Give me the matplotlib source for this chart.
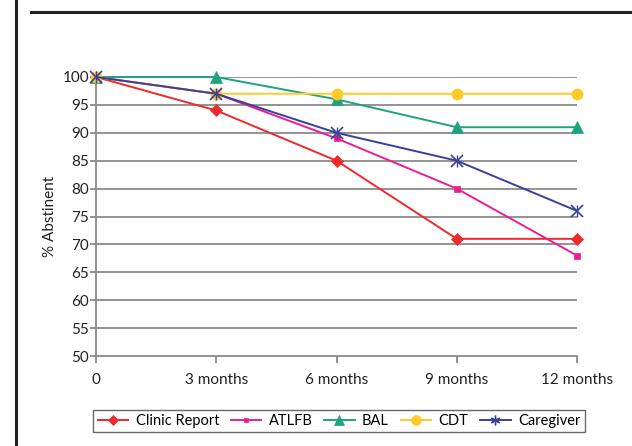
import matplotlib.pyplot as plt
from matplotlib.lines import Line2D

months = [0, 3, 6, 9, 12]
tick_labels = ['0', '3 months', '6 months', '9 months', '12 months']

clinic_report = [100, 94, 85, 71, 71]
atlfb = [100, 97, 89, 80, 68]
bal = [100, 100, 96, 91, 91]
cdt = [100, 97, 97, 97, 97]
caregiver = [100, 97, 90, 85, 76]

plt.rcParams['font.family'] = ['Lato', 'DejaVu Sans']

fig = plt.figure(figsize=(6.32, 4.46), dpi=100)
ax = fig.add_axes([96 / 632, 90 / 446, 481 / 632, 279 / 446])

grid_color = '#8a8a8a'
ax.set_yticks(range(50, 101, 5))
for y in range(55, 101, 5):
    ax.axhline(y, color=grid_color, linewidth=1.3, zorder=1)

series = [
    ('Clinic Report', clinic_report, '#ee2a2e', 'D', 6),
    ('ATLFB', atlfb, '#ec1e8f', 's', 4.5),
    ('BAL', bal, '#1fa37f', '^', 8),
    ('CDT', cdt, '#fecb2a', 'o', 8),
    ('Caregiver', caregiver, '#3a3f9c', 'x', 8),
]
for name, vals, color, marker, ms in series:
    ax.plot(months, vals, color=color, marker=marker, markersize=ms, linewidth=1.4,
            markeredgewidth=1.2 if marker == 'x' else 0.5, label=name, zorder=3, clip_on=False)
# the caregiver asterisk: add a vertical bar to make it a star
ax.plot(months, caregiver, linestyle='none', marker='|', markersize=8, color='#3a3f9c',
        markeredgewidth=1.0, zorder=4, clip_on=False)

ax.set_xlim(0, 12)
ax.set_ylim(50, 100)
ax.set_xticks(months)
ax.set_xticklabels(tick_labels, fontsize=11, color='#222222')
ax.tick_params(axis='x', length=5, width=1.3, color=grid_color, pad=7)
ax.tick_params(axis='y', length=4, width=1.3, color=grid_color, labelsize=11,
               labelcolor='#222222', pad=1)
for side in ['top', 'right']:
    ax.spines[side].set_visible(False)
for side in ['left', 'bottom']:
    ax.spines[side].set_color(grid_color)
    ax.spines[side].set_linewidth(1.3)
ax.set_ylabel('% Abstinent', fontsize=11, color='#222222', labelpad=4)

handles = []
for name, vals, color, marker, ms in series:
    handles.append(Line2D([], [], color=color, marker=marker if marker != 'x' else (6, 2, 0),
                          markersize=ms - 1, linewidth=1.4, label=name,
                          markeredgewidth=1.0 if marker == 'x' else 0.5))
leg = fig.legend(handles=handles, loc='center', bbox_to_anchor=(339 / 632, 1 - 421 / 446),
                 ncol=5, fontsize=10.5, frameon=True, fancybox=False, handlelength=2.1,
                 handletextpad=0.5, columnspacing=0.8, borderpad=0.3, borderaxespad=0)
leg.get_frame().set_edgecolor('#444444')
leg.get_frame().set_linewidth(1.0)

# page frame lines
fig.add_artist(Line2D([15.5 / 632, 15.5 / 632], [0, 1], color='#231f20', linewidth=2.2,
                      transform=fig.transFigure))
fig.add_artist(Line2D([31 / 632, 1], [1 - 12 / 446, 1 - 12 / 446], color='#231f20',
                      linewidth=2.2, transform=fig.transFigure))

fig.savefig('out.png', dpi=100)
